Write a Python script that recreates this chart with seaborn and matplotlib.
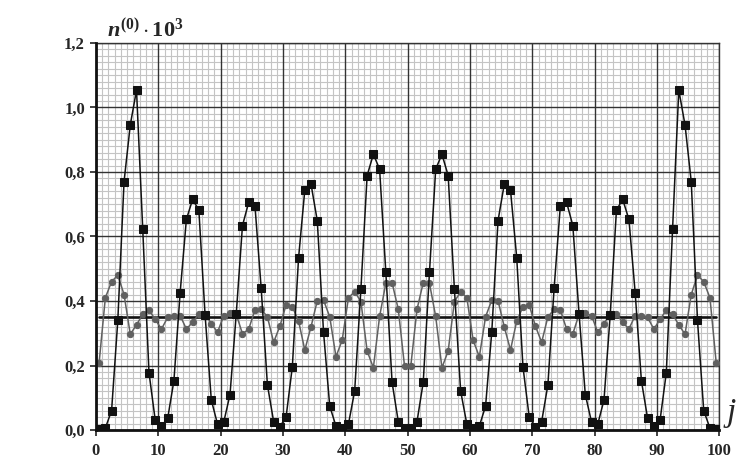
import numpy as np
import pandas as pd
import matplotlib
matplotlib.use("Agg")
import matplotlib.pyplot as plt
from matplotlib.ticker import MultipleLocator, FuncFormatter
import seaborn as sns

# ---- data ----
point_index = np.arange(100)          # categories 0..99, drawn at category centres
black_vals = [0.002, 0.006, 0.06, 0.34, 0.77, 0.946, 1.054, 0.622, 0.178, 0.031,
              0.012, 0.036, 0.153, 0.426, 0.653, 0.715, 0.682, 0.357, 0.093, 0.018,
              0.025, 0.11, 0.36, 0.634, 0.706, 0.696, 0.44, 0.14, 0.026, 0.010,
              0.041, 0.196, 0.534, 0.744, 0.762, 0.649, 0.305, 0.074, 0.012, 0.005,
              0.018, 0.121, 0.437, 0.789, 0.855, 0.809, 0.489, 0.148, 0.026, 0.005,
              0.005, 0.026, 0.148, 0.489, 0.809, 0.855, 0.789, 0.437, 0.121, 0.018,
              0.005, 0.012, 0.074, 0.305, 0.649, 0.762, 0.744, 0.534, 0.196, 0.041,
              0.010, 0.026, 0.14, 0.44, 0.696, 0.706, 0.634, 0.36, 0.11, 0.025,
              0.018, 0.093, 0.357, 0.682, 0.715, 0.653, 0.426, 0.153, 0.036, 0.012,
              0.031, 0.178, 0.622, 1.054, 0.946, 0.77, 0.34, 0.06, 0.006, 0.002]
gray_vals = [0.209, 0.41, 0.46, 0.48, 0.42, 0.297, 0.326, 0.359, 0.372, 0.343,
             0.313, 0.349, 0.353, 0.355, 0.313, 0.334, 0.359, 0.36, 0.33, 0.303,
             0.355, 0.362, 0.359, 0.298, 0.313, 0.372, 0.374, 0.351, 0.272, 0.322,
             0.388, 0.382, 0.338, 0.248, 0.320, 0.401, 0.403, 0.351, 0.227, 0.279,
             0.410, 0.429, 0.398, 0.245, 0.193, 0.352, 0.455, 0.457, 0.374, 0.198,
             0.198, 0.374, 0.457, 0.455, 0.352, 0.193, 0.245, 0.398, 0.429, 0.410,
             0.279, 0.227, 0.351, 0.403, 0.401, 0.320, 0.248, 0.338, 0.382, 0.388,
             0.322, 0.272, 0.351, 0.374, 0.372, 0.313, 0.298, 0.359, 0.362, 0.355,
             0.303, 0.33, 0.36, 0.359, 0.334, 0.313, 0.355, 0.353, 0.349, 0.313,
             0.343, 0.372, 0.359, 0.326, 0.297, 0.42, 0.48, 0.46, 0.41, 0.209]
mean_level = 0.35
x_ticks = [0, 10, 20, 30, 40, 50, 60, 70, 80, 90, 100]
y_ticks = [0.0, 0.2, 0.4, 0.6, 0.8, 1.0, 1.2]

df = pd.DataFrame({
    "i": point_index + 0.5,
    "black": black_vals,
    "gray": gray_vals,
    "mean": np.full(len(point_index), mean_level),
})

sns.set_style("white")
plt.rcParams["font.family"] = ["Liberation Serif", "DejaVu Serif"]
plt.rcParams["mathtext.fontset"] = "custom"
plt.rcParams["mathtext.it"] = "Liberation Serif:italic:bold"
plt.rcParams["mathtext.rm"] = "Liberation Serif:bold"
plt.rcParams["mathtext.bf"] = "Liberation Serif:bold"

fig = plt.figure(figsize=(7.55, 4.61), dpi=100)
ax = fig.add_axes([96 / 755, 1 - 430 / 461, (719.3 - 96) / 755, (430 - 43) / 461])

# fine grid
ax.set_xlim(x_ticks[0], x_ticks[-1])
ax.set_ylim(y_ticks[0], y_ticks[-1])
ax.xaxis.set_minor_locator(MultipleLocator(1))
ax.yaxis.set_minor_locator(MultipleLocator(0.02))
ax.grid(which="minor", color="#c4c4c4", lw=0.8)
ax.grid(which="major", visible=False)
ax.set_axisbelow(True)
# coarse grid, drawn above the fine one
for xv in x_ticks:
    ax.axvline(xv, color="#333333", lw=1.0, zorder=1)
for yv in y_ticks:
    ax.axhline(yv, color="#333333", lw=1.0, zorder=1)

sns.lineplot(data=df, x="i", y="mean", ax=ax, color="#111111", lw=1.9, zorder=2)
sns.lineplot(data=df, x="i", y="gray", ax=ax, color="#606060", lw=1.1,
             marker="o", markersize=4.5, markeredgecolor="#606060",
             markerfacecolor="#606060", zorder=3)
sns.lineplot(data=df, x="i", y="black", ax=ax, color="#111111", lw=1.1,
             marker="s", markersize=5.2, markeredgecolor="#111111",
             markerfacecolor="#111111", zorder=4)

ax.set_xticks(x_ticks)
ax.set_yticks(y_ticks)
ax.yaxis.set_major_formatter(FuncFormatter(lambda v, p: f"{v:.1f}".replace(".", ",")))
ax.xaxis.set_major_formatter(FuncFormatter(lambda v, p: f"{v:.0f}"))
ax.tick_params(which="major", direction="out", length=4, width=1.2, color="#222222",
               labelsize=12, bottom=True, left=True)
ax.tick_params(axis="x", which="major", pad=5)
ax.tick_params(axis="y", which="major", pad=4)
ax.tick_params(which="minor", length=0)
for lab in ax.get_xticklabels() + ax.get_yticklabels():
    lab.set_fontweight("bold")
ax.set_xlabel("")
ax.set_ylabel("")

for s in ["left", "bottom"]:
    ax.spines[s].set_color("#111111")
    ax.spines[s].set_linewidth(2.0)
    ax.spines[s].set_zorder(5)
for s in ["top", "right"]:
    ax.spines[s].set_color("#333333")
    ax.spines[s].set_linewidth(1.0)

fig.text(107 / 755, 1 - 38 / 461, r"$n^{(0)}\cdot10^3$", fontsize=16, va="baseline")
fig.text(727 / 755, 1 - 421 / 461, "j", fontsize=24, fontstyle="italic", va="baseline")

fig.savefig("out.png", dpi=100)
